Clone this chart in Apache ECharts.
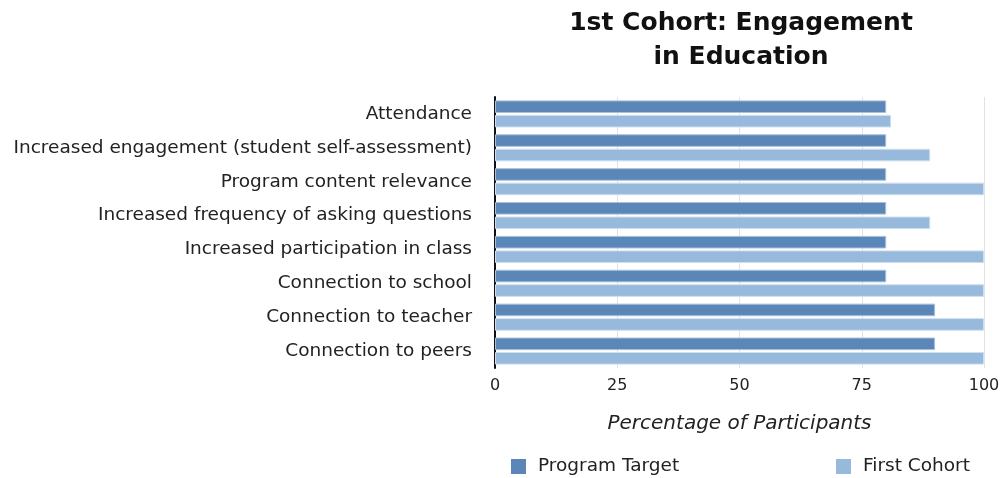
<!DOCTYPE html>
<html>
<head>
<meta charset="utf-8">
<script src="https://cdn.jsdelivr.net/npm/echarts@6/dist/echarts.min.js"></script>
<style>
  html, body { margin: 0; padding: 0; background: #fff; }
  #chart { width: 1005px; height: 478px; }
</style>
</head>
<body>
<div id="chart"></div>
<script>
// Engagement measures, listed top to bottom
const categories = [
  'Attendance',
  'Increased engagement (student self-assessment)',
  'Program content relevance',
  'Increased frequency of asking questions',
  'Increased participation in class',
  'Connection to school',
  'Connection to teacher',
  'Connection to peers'
];
const programTarget = [80, 80, 80, 80, 80, 80, 90, 90];
const firstCohort = [81, 89, 100, 89, 100, 100, 100, 100];
const xTicks = [0, 25, 50, 75, 100];

const FONT = '"DejaVu Sans", Verdana, sans-serif';
const DARK = '#5b87b8';
const LIGHT = '#96b9dc';

const chart = echarts.init(document.getElementById('chart'), null, { renderer: 'canvas' });

const legendText = { fontSize: 18.5, color: '#222', fontFamily: FONT, padding: [0, 0, 0, 7] };

chart.setOption({
  animation: false,
  textStyle: { fontFamily: FONT },
  graphic: [{
    type: 'text',
    x: 741,
    y: 6,
    style: {
      text: '1st Cohort: Engagement\nin Education',
      align: 'center',
      verticalAlign: 'top',
      fontFamily: FONT,
      fontSize: 25,
      fontWeight: 'bold',
      lineHeight: 34,
      fill: '#111'
    }
  }],
  legend: [{
    data: ['Program Target'],
    left: 506,
    top: 452,
    itemWidth: 15,
    itemHeight: 15,
    itemGap: 0,
    itemStyle: { borderWidth: 0 },
    textStyle: legendText,
    icon: 'rect'
  }, {
    data: ['First Cohort'],
    left: 831,
    top: 452,
    itemWidth: 15,
    itemHeight: 15,
    itemGap: 0,
    itemStyle: { borderWidth: 0 },
    textStyle: legendText,
    icon: 'rect'
  }],
  grid: { left: 495, right: 21, top: 97, bottom: 110, containLabel: false },
  xAxis: {
    type: 'value',
    min: xTicks[0],
    max: xTicks[xTicks.length - 1],
    interval: xTicks[1] - xTicks[0],
    name: 'Percentage of Participants',
    nameLocation: 'middle',
    nameGap: 46,
    nameTextStyle: { fontSize: 20, fontStyle: 'italic', color: '#222', fontFamily: FONT },
    axisLine: { show: false },
    axisTick: { show: false },
    axisLabel: { fontSize: 16, color: '#222', margin: 10, fontFamily: FONT },
    splitLine: { show: true, lineStyle: { color: '#e2e2e2', width: 1 } }
  },
  yAxis: {
    type: 'category',
    data: categories,
    inverse: true,
    axisLine: { show: true, lineStyle: { color: '#111', width: 2 } },
    axisTick: { show: false },
    axisLabel: { fontSize: 18.5, color: '#222', margin: 23, fontFamily: FONT },
    splitLine: { show: false }
  },
  series: [{
    name: 'Program Target',
    type: 'bar',
    data: programTarget,
    barGap: '15%',
    barCategoryGap: '20%',
    itemStyle: { color: DARK, borderColor: '#a9c1dc', borderWidth: 1 }
  }, {
    name: 'First Cohort',
    type: 'bar',
    data: firstCohort,
    barGap: '15%',
    barCategoryGap: '20%',
    itemStyle: { color: LIGHT, borderColor: '#cfdfef', borderWidth: 1 }
  }]
});
</script>
</body>
</html>
